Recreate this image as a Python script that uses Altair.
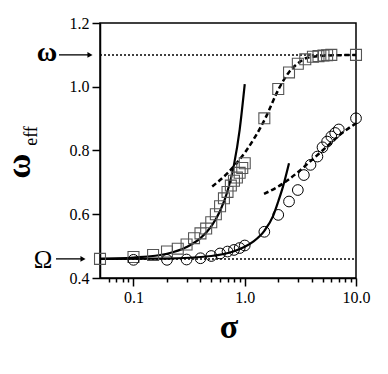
import altair as alt
import pandas as pd

# ---- data ----
sq_sigma = [0.05, 0.1, 0.15, 0.2, 0.25, 0.3, 0.35, 0.4, 0.45, 0.5, 0.55, 0.6, 0.65, 0.7,
            0.75, 0.8, 0.85, 0.9, 0.95, 1.0, 1.5, 2.0, 2.5, 3.0, 3.5, 4.1, 4.6, 5.1, 5.5, 6.0, 10.0]
sq_value = [0.46, 0.466, 0.472, 0.483, 0.492, 0.505, 0.525, 0.54, 0.555, 0.575, 0.6, 0.625, 0.65, 0.67,
            0.69, 0.705, 0.715, 0.73, 0.745, 0.76, 0.901, 0.993, 1.045, 1.072, 1.086, 1.094, 1.096, 1.098,
            1.099, 1.1, 1.1]

ci_sigma = [0.1, 0.2, 0.3, 0.4, 0.5, 0.6, 0.7, 0.8, 0.9, 1.0, 1.5, 2.0, 2.5, 3.0, 3.4, 3.9,
            4.5, 5.0, 5.5, 6.0, 6.5, 7.0, 10.0]
ci_value = [0.457, 0.457, 0.458, 0.462, 0.469, 0.477, 0.483, 0.488, 0.494, 0.502, 0.545, 0.598,
            0.64, 0.676, 0.723, 0.755, 0.781, 0.81, 0.828, 0.844, 0.855, 0.866, 0.901]

fit1_sigma = [0.05, 0.1, 0.2, 0.3, 0.4, 0.5, 0.6, 0.7, 0.8, 0.9, 1.0]
fit1_value = [0.46, 0.464, 0.476, 0.497, 0.525, 0.562, 0.61, 0.672, 0.755, 0.865, 1.008]

fit2_sigma = [0.05, 0.2, 0.5, 0.8, 1.0, 1.2, 1.5, 1.8, 2.0, 2.2, 2.5]
fit2_value = [0.46, 0.461, 0.469, 0.484, 0.498, 0.515, 0.548, 0.595, 0.64, 0.685, 0.76]

dash1_sigma = [0.51, 0.7, 1.02, 1.53, 2.02, 2.49, 3.05, 3.6, 5.1, 10.0]
dash1_value = [0.687, 0.729, 0.797, 0.901, 0.993, 1.045, 1.075, 1.09, 1.097, 1.1]

dash2_sigma = [1.49, 2.0, 2.5, 3.2, 4.0, 5.0, 6.0, 7.2, 10.0]
dash2_value = [0.664, 0.687, 0.71, 0.74, 0.77, 0.80, 0.825, 0.85, 0.885]

omega_big = 1.1
omega_small = 0.46

x_ticks = [0.06, 0.07, 0.08, 0.09, 0.1, 0.2, 0.3, 0.4, 0.5, 0.6, 0.7, 0.8, 0.9, 1.0,
           2, 3, 4, 5, 6, 7, 8, 9, 10]
y_ticks = [0.4, 0.5, 0.6, 0.7, 0.8, 0.9, 1.0, 1.1, 1.2]

FONT = "Liberation Serif"

squares = pd.DataFrame({"sigma": sq_sigma, "w": sq_value})
circles = pd.DataFrame({"sigma": ci_sigma, "w": ci_value})
fit1 = pd.DataFrame({"sigma": fit1_sigma, "w": fit1_value})
fit2 = pd.DataFrame({"sigma": fit2_sigma, "w": fit2_value})
dash1 = pd.DataFrame({"sigma": dash1_sigma, "w": dash1_value})
dash2 = pd.DataFrame({"sigma": dash2_sigma, "w": dash2_value})
one = pd.DataFrame({"a": [0]})

xscale = alt.Scale(type="log", domain=[0.05, 10], nice=False)
yscale = alt.Scale(domain=[0.4, 1.2], nice=False, zero=False)

major_x = "datum.value == 0.1 || datum.value == 1 || datum.value == 10"
xaxis = alt.Axis(
    values=x_ticks, title=None,
    labelExpr="datum.value == 0.1 ? '0.1' : datum.value == 1 ? '1.0' : datum.value == 10 ? '10.0' : ''",
    tickSize={"condition": {"test": major_x, "value": 8}, "value": 4},
    labelFont=FONT, labelFontSize=16, labelColor="black", labelPadding=3,
    domainColor="black", domainWidth=1.5, tickColor="black", tickWidth=1.5,
    grid=False, labelFlush=False, labelOverlap=False,
)
major_y = "round(datum.value * 10) % 2 == 0"
yaxis = alt.Axis(
    values=y_ticks, title=None,
    labelExpr="round(datum.value * 10) % 2 == 0 ? format(datum.value, '.1f') : ''",
    tickSize={"condition": {"test": major_y, "value": 8}, "value": 4},
    labelFont=FONT, labelFontSize=16, labelColor="black", labelPadding=3,
    domainColor="black", domainWidth=1.5, tickColor="black", tickWidth=1.5,
    grid=False, labelFlush=False, labelOverlap=False,
)

X = alt.X("sigma:Q", scale=xscale, axis=xaxis)
Y = alt.Y("w:Q", scale=yscale, axis=yaxis)

dotted_hi = alt.Chart(one).mark_rule(color="black", strokeWidth=1.5, strokeDash=[2, 2]).encode(
    y=alt.datum(omega_big, scale=yscale), x=alt.value(0), x2=alt.value(256))
dotted_lo = alt.Chart(one).mark_rule(color="black", strokeWidth=1.5, strokeDash=[2, 2]).encode(
    y=alt.datum(omega_small, scale=yscale), x=alt.value(0), x2=alt.value(256))

l_fit1 = alt.Chart(fit1).mark_line(color="black", strokeWidth=2.2, interpolate="monotone").encode(x=X, y=Y)
l_fit2 = alt.Chart(fit2).mark_line(color="black", strokeWidth=2.2, interpolate="monotone").encode(x=X, y=Y)
l_d1 = alt.Chart(dash1).mark_line(color="black", strokeWidth=2.5, strokeDash=[5, 3], interpolate="monotone").encode(x=X, y=Y)
l_d2 = alt.Chart(dash2).mark_line(color="black", strokeWidth=2.5, strokeDash=[5, 3], interpolate="monotone").encode(x=X, y=Y)

p_sq = alt.Chart(squares).mark_point(shape="square", filled=False, size=120, color="#555",
                                     strokeWidth=1.1, opacity=1).encode(x=X, y=Y)
p_ci = alt.Chart(circles).mark_point(shape="circle", filled=False, size=115, color="black",
                                     strokeWidth=1.0, opacity=1).encode(x=X, y=Y)

# arrows and labels outside the plot
arr1 = alt.Chart(one).mark_rule(color="black", strokeWidth=1.3).encode(
    y=alt.datum(omega_big, scale=yscale), x=alt.value(-41), x2=alt.value(-10))
head1 = alt.Chart(one).mark_point(shape="triangle-right", filled=True, size=35, color="black", opacity=1).encode(
    y=alt.datum(omega_big, scale=yscale), x=alt.value(-10))
arr2 = alt.Chart(one).mark_rule(color="black", strokeWidth=1.3).encode(
    y=alt.datum(omega_small, scale=yscale), x=alt.value(-44), x2=alt.value(-17))
head2 = alt.Chart(one).mark_point(shape="triangle-right", filled=True, size=35, color="black", opacity=1).encode(
    y=alt.datum(omega_small, scale=yscale), x=alt.value(-17))

lab_w = alt.Chart(one).mark_text(text="ω", font=FONT, fontSize=28, fontWeight="bold", color="black",
                                 align="center", baseline="middle", dy=-2).encode(
    y=alt.datum(omega_big, scale=yscale), x=alt.value(-53))
lab_O = alt.Chart(one).mark_text(text="Ω", font=FONT, fontSize=25, color="black",
                                 align="center", baseline="middle", dy=1).encode(
    y=alt.datum(omega_small, scale=yscale), x=alt.value(-57))

ytitle = alt.Chart(one).mark_text(text="ω", font=FONT, fontSize=34, fontWeight="bold", color="black",
                                  align="center", baseline="alphabetic", angle=270).encode(
    x=alt.value(-70), y=alt.value(143))
ysub = alt.Chart(one).mark_text(text="eff", font=FONT, fontSize=18, color="black",
                                align="center", baseline="alphabetic", angle=270).encode(
    x=alt.value(-63), y=alt.value(113))
xtitle = alt.Chart(one).mark_text(text="σ", font=FONT, fontSize=34, fontWeight="bold", color="black",
                                  align="center", baseline="alphabetic").encode(
    x=alt.value(129), y=alt.value(315))

chart = alt.layer(
    dotted_hi, dotted_lo, l_fit1, l_fit2, l_d1, l_d2, p_sq, p_ci,
    arr1, head1, arr2, head2, lab_w, lab_O, ytitle, ysub, xtitle,
).properties(
    width=256, height=255,
    autosize=alt.AutoSizeParams(type="none"),
    padding={"left": 92, "top": 15, "right": 24, "bottom": 88},
    background="white",
).configure_view(stroke="black", strokeWidth=1.5)

chart.save("out.html", embed_options={"renderer": "svg", "actions": False})
